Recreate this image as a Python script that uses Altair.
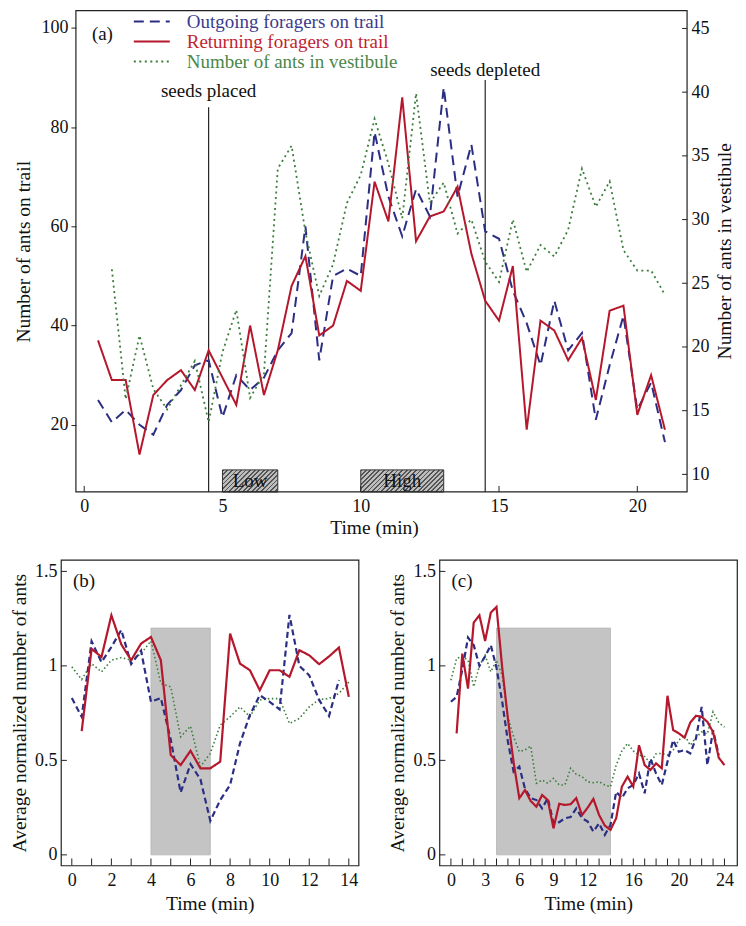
import altair as alt
import pandas as pd

FONT = "Liberation Serif"

SERIES = ["Outgoing foragers on trail", "Returning foragers on trail", "Number of ants in vestibule"]
LINE_COLORS = ["#2b2e83", "#b5172c", "#3d7d3d"]
TEXT_COLORS = ["#3b3b8e", "#c21f30", "#4a874a"]

# ---------------- panel (a) ----------------
A_TIME = [0.5, 1.0, 1.5, 2.0, 2.5, 3.0, 3.5, 4.0, 4.5, 5.0,
          5.5, 6.0, 6.5, 7.0, 7.5, 8.0, 8.5, 9.0, 9.5, 10.0,
          10.5, 11.0, 11.5, 12.0, 12.5, 13.0, 13.5, 14.0, 14.5, 15.0,
          15.5, 16.0, 16.5, 17.0, 17.5, 18.0, 18.5, 19.0, 19.5, 20.0,
          20.5, 21.0]
A_OUT = [25, 20.5, 23, 20, 18, 24, 27, 32, 33, 21.5,
         30, 27, 29.5, 35, 38.5, 60, 33, 50, 51.5, 50,
         79, 66, 58, 67.5, 62, 88, 66, 76.5, 59, 57.5,
         47, 40.5, 32, 45, 35, 38.5, 21, 32, 42, 23,
         28.5, 16.5]
A_RET = [37, 29, 29, 14, 26, 29, 31, 27, 35, 29.5,
         24, 40, 26, 35, 48, 54, 38, 40, 49, 47,
         69, 61, 86, 57, 62, 63, 68, 54.5, 45, 41,
         52, 19, 41, 39, 33, 37.5, 25, 43, 44, 22,
         30, 19]
A_VEST_TIME = A_TIME[1:]
A_VEST = [26.1, 15.9, 20.9, 16.7, 15.1, 17, 18.9, 14.1, 19.6, 22.9,
          16, 17.9, 34, 35.8, 29, 24, 26.5, 31.3, 33.5, 37.9,
          34.4, 30.1, 39.9, 31.3, 32.9, 28.9, 30, 26.7, 25.1, 30,
          25.9, 28, 27.1, 29.2, 34, 31, 33, 27.6, 26, 26,
          24.1]

A_XTICKS = [0, 5, 10, 15, 20]
A_LTICKS = [20, 40, 60, 80, 100]
A_RTICKS = [10, 15, 20, 25, 30, 35, 40, 45]

EVENT_T = [4.5, 14.5]
EVENT_TOP = [84.0, 89.5]
EVENT_LABEL_Y = [86.1, 90.3]
EVENT_LABELS = ["seeds placed", "seeds depleted"]

BOX_START = [5, 10]
BOX_END = [7, 13]
BOX_TOP = 10.9
BOX_LABELS = ["Low", "High"]

# ---------------- panel (b) ----------------
B_TIME = [0.0, 0.5, 1.0, 1.5, 2.0, 2.5, 3.0, 3.5, 4.0, 4.5,
          5.0, 5.5, 6.0, 6.5, 7.0, 7.5, 8.0, 8.5, 9.0, 9.5,
          10.0, 10.5, 11.0, 11.5, 12.0, 12.5, 13.0, 13.5, 14.0]
B_OUT = [0.83, 0.73, 1.13, 1.02, 1.10, 1.19, 1.01, 1.08, 0.81, 0.83,
         0.61, 0.33, 0.48, 0.40, 0.18, 0.29, 0.37, 0.59, 0.74, 0.845,
         0.81, 0.77, 1.27, 1.0, 0.95, 0.82, 0.735, 0.925]
B_RET = [0.655, 1.09, 1.047, 1.268, 1.114, 1.03, 1.118, 1.153, 1.03, 0.528,
         0.475, 0.551, 0.458, 0.458, 0.493, 1.171, 1.012, 0.977, 0.871, 0.977,
         0.977, 0.942, 1.083, 1.056, 1.009, 1.05, 1.097, 0.836]
B_VEST = [0.995, 0.928, 1.012, 0.968, 1.03, 1.044, 1.03, 1.065, 1.132, 0.907,
          0.889, 0.625, 0.681, 0.467, 0.537, 0.687, 0.731, 0.783, 0.731, 0.819,
          0.827, 0.827, 0.695, 0.722, 0.783, 0.822, 0.827, 0.854, 0.915]
B_XLABELS = [0, 2, 4, 6, 8, 10, 12, 14]
B_XTICKS = [0, 1, 2, 3, 4, 5, 6, 7, 8, 9, 10, 11, 12, 13, 14]
B_SHADE = [4, 7]

# ---------------- panel (c) ----------------
C_TIME = [0.0, 0.5, 1.0, 1.5, 2.0, 2.5, 3.0, 3.5, 4.0, 4.5,
          5.0, 5.5, 6.0, 6.5, 7.0, 7.5, 8.0, 8.5, 9.0, 9.5,
          10.0, 10.5, 11.0, 11.5, 12.0, 12.5, 13.0, 13.5, 14.0, 14.5,
          15.0, 15.5, 16.0, 16.5, 17.0, 17.5, 18.0, 18.5, 19.0, 19.5,
          20.0, 20.5, 21.0, 21.5, 22.0, 22.5, 23.0, 23.5, 24.0]
C_OUT = [0.81, 0.836, 0.98, 1.15, 1.11, 1.0, 1.05, 1.11, 0.99, 0.81,
         0.60, 0.44, 0.467, 0.35, 0.30, 0.29, 0.246, 0.30, 0.167, 0.173,
         0.194, 0.2, 0.246, 0.194, 0.176, 0.123, 0.167, 0.106, 0.158, 0.334,
         0.30, 0.352, 0.37, 0.431, 0.326, 0.51, 0.43, 0.37, 0.493, 0.607,
         0.546, 0.555, 0.537, 0.616, 0.783, 0.475, 0.66, 0.528]
C_RET = [0.643, 1.065, 0.88, 1.229, 1.268, 1.132, 1.282, 1.312, 0.99, 0.72,
         0.49, 0.30, 0.343, 0.285, 0.255, 0.317, 0.29, 0.14, 0.27, 0.264,
         0.268, 0.30, 0.21, 0.25, 0.296, 0.211, 0.155, 0.132, 0.194, 0.361,
         0.414, 0.361, 0.58, 0.475, 0.449, 0.484, 0.458, 0.842, 0.66, 0.643,
         0.62, 0.70, 0.736, 0.73, 0.704, 0.65, 0.514, 0.475]
C_VEST = [0.924, 1.04, 1.05, 1.03, 0.89, 1.0, 1.056, 0.968, 1.03, 0.95,
          0.73, 0.625, 0.546, 0.555, 0.576, 0.379, 0.396, 0.379, 0.405, 0.37,
          0.37, 0.458, 0.426, 0.414, 0.387, 0.382, 0.387, 0.37, 0.36, 0.475,
          0.55, 0.59, 0.55, 0.528, 0.52, 0.485, 0.535, 0.537, 0.528, 0.555,
          0.607, 0.634, 0.58, 0.62, 0.65, 0.64, 0.757, 0.70, 0.676]
C_XLABELS = [0, 3, 6, 9, 12, 16, 20, 24]
C_XTICKS = list(range(0, 25))
C_SHADE = [4, 14]

SHADE_TOP = 1.2
Y_TICKS = [0, 0.5, 1, 1.5]

# ---------------- layout constants ----------------
A_W, A_H = 612, 482          # framed plot area of panel (a)
A_SHIFT = 15                 # panel (a) frame sits this far right of panels (b)/(c)
A_VW = A_W + A_SHIFT         # view width of panel (a)
A_X = [-0.3, 21.8]           # x range covered by the frame of panel (a)
A_YL = [6.45, 103.5]
A_YR = [8.62, 46.4]

B_W, C_W, S_H = 298, 298, 306
B_X = [-0.55, 14.49]
C_X = [-1.01, 25.1]
Y_SMALL = [-0.056, 1.561]

INK = "#222222"
LABEL_SIZE = 18
TITLE_SIZE = 19.5
TEXT_SIZE = 19


def hatch_fill(w, h, period=3.3, dark="#555555", light="#bdbdbd"):
    lam = (w + h) / (w * w + h * h)
    n = max(1, round((w + h) / (2 ** 0.5 * period)))
    stops = []
    for i in range(n):
        a, b, c = i / n, (i + 0.4) / n, (i + 1) / n
        stops += [alt.GradientStop(offset=a, color=dark),
                  alt.GradientStop(offset=b, color=dark),
                  alt.GradientStop(offset=b, color=light),
                  alt.GradientStop(offset=c, color=light)]
    return alt.LinearGradient(gradient="linear", stops=stops,
                              x1=0, y1=0, x2=lam * w, y2=lam * h)


# ---------------- panel (a) ----------------
px_per_min = A_W / (A_X[1] - A_X[0])
xdomA = [A_X[0] - A_SHIFT / px_per_min, A_X[1]]
xsA = alt.Scale(domain=xdomA, nice=False, zero=False)
ysL = alt.Scale(domain=A_YL, nice=False, zero=False)
ysR = alt.Scale(domain=A_YR, nice=False, zero=False)
color_scale = alt.Scale(domain=SERIES, range=LINE_COLORS)
dash_scale = alt.Scale(domain=SERIES, range=[[10, 6], [1, 0], [2, 3.5]])

x_axis_a = alt.Axis(values=A_XTICKS, format="d", ticks=False, labelPadding=6,
                    title="Time (min)", titlePadding=3, labelFlush=False)
yl_axis = alt.Axis(values=A_LTICKS, format="d", tickSize=5, tickColor=INK, offset=-A_SHIFT,
                   labelPadding=3, title="Number of ants on trail", titlePadding=7)
yr_axis = alt.Axis(orient="right", values=A_RTICKS, format="d", ticks=False,
                   labelPadding=4, title=None)

label_expr = " : ".join(
    [f"datum.label == '{s}' ? '{c}'" for s, c in zip(SERIES[:-1], TEXT_COLORS[:-1])]
) + f" : '{TEXT_COLORS[-1]}'"

legend = alt.Legend(
    orient="none", legendX=66 + A_SHIFT, legendY=1, title=None,
    symbolType="M-2,0H2", symbolSize=324, symbolStrokeWidth=2,
    labelFont=FONT, labelFontSize=TEXT_SIZE, labelOffset=25, labelLimit=400,
    rowPadding=0, padding=0,
    labelColor=alt.ExprRef(expr=label_expr),
)

a_trail = pd.concat([
    pd.DataFrame({"t": A_TIME, "v": A_OUT, "series": SERIES[0]}),
    pd.DataFrame({"t": A_TIME, "v": A_RET, "series": SERIES[1]}),
])
a_vest = pd.DataFrame({"t": A_VEST_TIME, "v": A_VEST, "series": SERIES[2]})

box_h = A_H * (BOX_TOP - A_YL[0]) / (A_YL[1] - A_YL[0])


def XA(f):
    return alt.X(f, type="quantitative", scale=xsA, axis=x_axis_a)


def YL(f):
    return alt.Y(f, type="quantitative", scale=ysL, axis=yl_axis)


def YR(f):
    return alt.Y(f, type="quantitative", scale=ysR, axis=yr_axis)


box_layers = []
for s, e, lab in zip(BOX_START, BOX_END, BOX_LABELS):
    bdf = pd.DataFrame({"s": [s], "e": [e], "top": [BOX_TOP], "label": [lab],
                        "mid": [(s + e) / 2], "ymid": [(BOX_TOP + A_YL[0]) / 2]})
    box_layers.append(
        alt.Chart(bdf).mark_rect(fill=hatch_fill((e - s) * px_per_min, box_h),
                                 stroke="#333333", strokeWidth=1).encode(
            x=XA("s"), x2="e:Q", y=YL("top"), y2=alt.value(A_H))
    )
    box_layers.append(
        alt.Chart(bdf).mark_text(fontSize=TEXT_SIZE, baseline="middle", color="#111").encode(
            x=XA("mid"), y=YL("ymid"), text="label:N")
    )

ev_df = pd.DataFrame({"t": EVENT_T, "top": EVENT_TOP, "ly": EVENT_LABEL_Y, "label": EVENT_LABELS})
ev_rule = alt.Chart(ev_df).mark_rule(color="#111", strokeWidth=1.1).encode(
    x=XA("t"), y=YL("top"), y2=alt.value(A_H))
ev_text = alt.Chart(ev_df).mark_text(fontSize=TEXT_SIZE, baseline="alphabetic", align="center",
                                     color="#111").encode(
    x=XA("t"), y=YL("ly"), text="label:N")

trail = alt.Chart(a_trail).mark_line(strokeWidth=2).encode(
    x=XA("t"), y=YL("v"),
    color=alt.Color("series:N", scale=color_scale, legend=legend),
    strokeDash=alt.StrokeDash("series:N", scale=dash_scale, legend=legend),
    detail="series:N",
)

xt_a = alt.Chart(pd.DataFrame({"t": A_XTICKS})).mark_rule(color=INK, strokeWidth=1).encode(
    x=XA("t"), y=alt.value(A_H), y2=alt.value(A_H - 6))

tag_a = alt.Chart(pd.DataFrame({"tag": ["(a)"]})).mark_text(
    fontSize=TEXT_SIZE, align="left", baseline="middle", color="#111").encode(
    x=alt.value(16 + A_SHIFT), y=alt.value(23), text="tag:N")

frame_a = alt.Chart(pd.DataFrame({"k": [0]})).mark_rect(
    fillOpacity=0, stroke=INK, strokeWidth=1.2).encode(
    x=alt.value(A_SHIFT), x2=alt.value(A_VW), y=alt.value(0), y2=alt.value(A_H))

vest = alt.Chart(a_vest).mark_line(strokeWidth=1.8).encode(
    x=XA("t"), y=YR("v"),
    color=alt.Color("series:N", scale=color_scale, legend=legend),
    strokeDash=alt.StrokeDash("series:N", scale=dash_scale, legend=legend),
)
rt_a = alt.Chart(pd.DataFrame({"v": A_RTICKS})).mark_rule(color=INK, strokeWidth=1).encode(
    y=YR("v"), x=alt.value(A_VW), x2=alt.value(A_VW - 5))
rtitle_a = alt.Chart(pd.DataFrame({"title": ["Number of ants in vestibule"]})).mark_text(
    angle=270, baseline="top", align="center", fontSize=TITLE_SIZE, color="#111").encode(
    x=alt.value(A_VW + 4 + 18 + 7), y=alt.value(A_H / 2), text="title:N")

left_group = alt.layer(*box_layers, ev_rule, ev_text, trail, xt_a, tag_a, frame_a)
right_group = alt.layer(vest, rt_a, rtitle_a)
panel_a = alt.layer(left_group, right_group).resolve_scale(y="independent").properties(
    width=A_VW, height=A_H, view=alt.ViewBackground(stroke="transparent"))


# ---------------- panels (b) and (c) ----------------
def small_panel(times, out_v, ret_v, vest_v, xdom, xlabels, xticks, shade, tag, w, h):
    xs = alt.Scale(domain=xdom, nice=False, zero=False)
    ys = alt.Scale(domain=Y_SMALL, nice=False, zero=False)
    xax = alt.Axis(values=xlabels, format="d", ticks=False, labelPadding=6,
                   title="Time (min)", titlePadding=5, labelFlush=False)
    yax = alt.Axis(values=Y_TICKS, format="~g", ticks=False, labelPadding=4,
                   title="Average normalized number of ants", titlePadding=5)

    def X(f):
        return alt.X(f, type="quantitative", scale=xs, axis=xax)

    def Y(f):
        return alt.Y(f, type="quantitative", scale=ys, axis=yax)

    shade_df = pd.DataFrame({"s": [shade[0]], "e": [shade[1]], "lo": [0.0], "hi": [SHADE_TOP]})
    shade_ch = alt.Chart(shade_df).mark_rect(fill="#c4c4c4", stroke="#b4b4b4", strokeWidth=0.8).encode(
        x=X("s"), x2="e:Q", y=Y("lo"), y2="hi:Q")
    n_out, n_ret = len(out_v), len(ret_v)
    out_df = pd.DataFrame({"t": times[:n_out], "v": out_v})
    ret_df = pd.DataFrame({"t": times[len(times) - n_ret:], "v": ret_v})
    vest_df = pd.DataFrame({"t": times[:len(vest_v)], "v": vest_v})

    def line(df, color, dash, sw):
        return alt.Chart(df).mark_line(color=color, strokeDash=dash, strokeWidth=sw).encode(
            x=X("t"), y=Y("v"))

    l_vest = line(vest_df, LINE_COLORS[2], [1.5, 2.5], 1.6)
    l_out = line(out_df, LINE_COLORS[0], [6, 3.5], 2.2)
    l_ret = line(ret_df, LINE_COLORS[1], [1, 0], 2.2)
    xt = alt.Chart(pd.DataFrame({"t": xticks})).mark_rule(color=INK, strokeWidth=1).encode(
        x=X("t"), y=alt.value(h), y2=alt.value(h - 7))
    yt = alt.Chart(pd.DataFrame({"v": Y_TICKS})).mark_rule(color=INK, strokeWidth=1).encode(
        y=Y("v"), x=alt.value(0), x2=alt.value(6))
    tg = alt.Chart(pd.DataFrame({"tag": [tag]})).mark_text(
        fontSize=TEXT_SIZE, align="left", baseline="middle", color="#111").encode(
        x=alt.value(12), y=alt.value(21), text="tag:N")
    return alt.layer(shade_ch, l_vest, l_out, l_ret, xt, yt, tg).properties(width=w, height=h)


panel_b = small_panel(B_TIME, B_OUT, B_RET, B_VEST, B_X, B_XLABELS, B_XTICKS, B_SHADE, "(b)", B_W, S_H)
panel_c = small_panel(C_TIME, C_OUT, C_RET, C_VEST, C_X, C_XLABELS, C_XTICKS, C_SHADE, "(c)", C_W, S_H)

chart = alt.concat(
    panel_a,
    alt.hconcat(panel_b, panel_c, spacing=27),
    columns=1, align="none", spacing=20,
).resolve_scale(color="independent", strokeDash="independent").properties(
    padding=0
).configure(font=FONT).configure_view(
    stroke=INK, strokeWidth=1.2
).configure_axis(
    labelFont=FONT, titleFont=FONT, labelFontSize=LABEL_SIZE, titleFontSize=TITLE_SIZE,
    labelColor="#111", titleColor="#111", titleFontWeight="normal",
    grid=False, domain=False,
).configure_text(font=FONT)

chart.save("out.html", embed_options={"renderer": "svg", "actions": False})
